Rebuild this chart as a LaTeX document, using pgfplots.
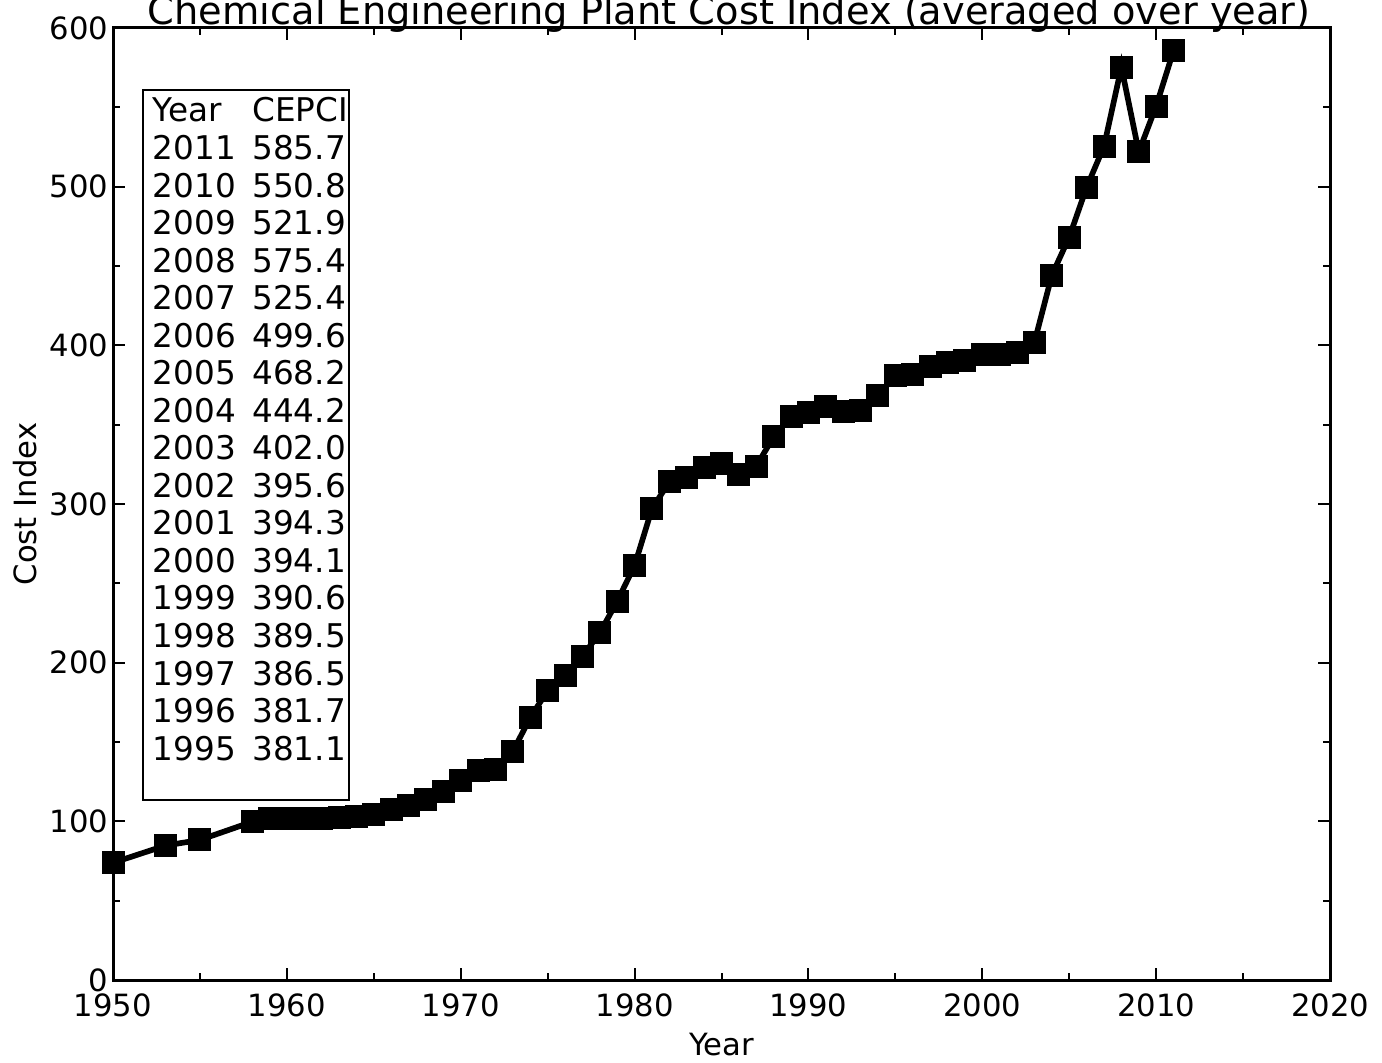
\documentclass[border=0pt]{standalone}
\usepackage{fontspec}
\setmainfont{DejaVu Sans}
\usepackage{pgfplots}
\pgfplotsset{compat=1.18}
\begin{document}
\fontsize{9}{11}\selectfont
\begin{tikzpicture}
\begin{axis}[name=ax, scale only axis, width=365.1pt, height=285.6pt,
  xmin=1950, xmax=2020, ymin=0, ymax=600,
  xtick={1950,1960,...,2020}, ytick={0,100,...,600},
  minor x tick num=1, minor y tick num=1,
  tick align=inside, major tick length=3.6pt, minor tick length=2pt,
  axis line style={line width=0.9pt},
  every tick/.style={black, line width=0.6pt},
  /pgf/number format/assume math mode=true,
  x tick label style={/pgf/number format/1000 sep={}, yshift=-1pt},
  y tick label style={xshift=1.8pt},
  tick label style={font=\fontsize{9.2}{11}\selectfont},
]
\addplot[black, line width=1.7pt, mark=square*, mark size=2.6pt, mark options={solid}] table {
x y
1950 73.9
1953 84.7
1955 88.3
1958 99.7
1959 101.8
1960 102.0
1961 101.5
1962 102.0
1963 102.4
1964 103.3
1965 104.2
1966 107.2
1967 109.7
1968 113.7
1969 119.0
1970 125.7
1971 132.3
1972 132.5
1973 144.1
1974 165.4
1975 182.4
1976 192.1
1977 204.1
1978 218.8
1979 238.7
1980 261.2
1981 297.0
1982 314.0
1983 316.9
1984 322.7
1985 325.3
1986 318.4
1987 323.8
1988 342.5
1989 355.4
1990 357.6
1991 361.3
1992 358.2
1993 359.2
1994 368.1
1995 381.1
1996 381.7
1997 386.5
1998 389.5
1999 390.6
2000 394.1
2001 394.3
2002 395.6
2003 402.0
2004 444.2
2005 468.2
2006 499.6
2007 525.4
2008 575.4
2009 521.9
2010 550.8
2011 585.7
};
\end{axis}
\draw[line width=0.8pt] ([xshift=9pt,yshift=54pt]ax.south west) rectangle ([xshift=70.8pt,yshift=267pt]ax.south west);
\node[anchor=base west, inner sep=0pt, font=\fontsize{9.8}{11.26}\selectfont] at ([xshift=11.7pt,yshift=257.4pt]ax.south west) {\begin{tabular}[t]{@{}l@{\hspace{5pt}}l@{}}
Year & CEPCI\\
2011 & 585.7\\
2010 & 550.8\\
2009 & 521.9\\
2008 & 575.4\\
2007 & 525.4\\
2006 & 499.6\\
2005 & 468.2\\
2004 & 444.2\\
2003 & 402.0\\
2002 & 395.6\\
2001 & 394.3\\
2000 & 394.1\\
1999 & 390.6\\
1998 & 389.5\\
1997 & 386.5\\
1996 & 381.7\\
1995 & 381.1
\end{tabular}};
\node[anchor=base, inner sep=0pt, font=\fontsize{11.5}{13}\selectfont] at ([xshift=2.3pt,yshift=1.0pt]ax.north) {Chemical Engineering Plant Cost Index (averaged over year)};
\node[rotate=90, anchor=center, inner sep=0pt, font=\fontsize{9.2}{11}\selectfont] at ([xshift=-26.4pt]ax.west) {Cost Index};
\node[anchor=base, inner sep=0pt, font=\fontsize{9.2}{11}\selectfont] at ([yshift=-22.5pt]ax.south) {Year};
\pgfresetboundingbox
\useasboundingbox ([xshift=-33.9pt,yshift=-24.6pt]ax.south west) rectangle ([xshift=15.6pt,yshift=8.4pt]ax.north east);
\end{tikzpicture}
\end{document}
